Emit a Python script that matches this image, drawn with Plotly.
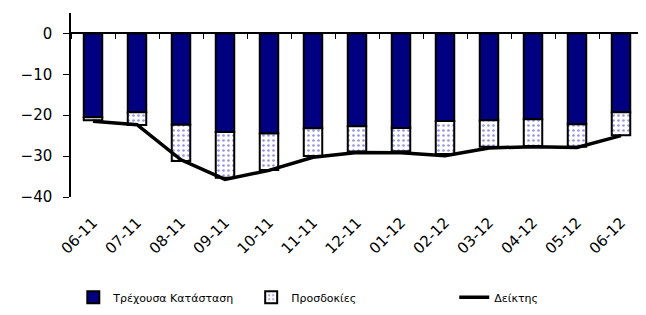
import plotly.graph_objects as go

categories = ["06-11", "07-11", "08-11", "09-11", "10-11", "11-11", "12-11",
              "01-12", "02-12", "03-12", "04-12", "05-12", "06-12"]
current = [-20.5, -19.3, -22.3, -24.1, -24.5, -23.2, -22.7, -23.1, -21.4, -21.2, -21.0, -22.2, -19.3]
expectations = [-0.7, -3.1, -8.9, -11.2, -8.9, -6.8, -6.2, -5.7, -8.1, -6.5, -6.5, -5.5, -5.6]
index_vals = [-21.5, -22.3, -30.9, -35.7, -33.5, -30.3, -29.1, -29.2, -29.9, -28.0, -27.7, -27.9, -25.0]
y_ticks = [0, -10, -20, -30, -40]

FONT = "DejaVu Sans"

fig = go.Figure()
fig.add_trace(go.Bar(
    x=categories, y=current, name="Τρέχουσα Κατάσταση",
    marker=dict(color="#000080", line=dict(color="black", width=2)),
    width=0.42, legend="legend",
))
fig.add_trace(go.Bar(
    x=categories, y=expectations, name="Προσδοκίες",
    marker=dict(color="white", line=dict(color="black", width=2),
                pattern=dict(shape=".", fgcolor="#2a2ac8", bgcolor="white",
                             size=5, solidity=0.22)),
    width=0.42, legend="legend2",
))
fig.add_trace(go.Scatter(
    x=categories, y=index_vals, name="Δείκτης", mode="lines",
    line=dict(color="black", width=3.5), xaxis="x2", legend="legend3",
))

legend_common = dict(orientation="h", yanchor="middle", y=-0.545, xanchor="left",
                     font=dict(family=FONT, size=11, color="black"),
                     bgcolor="rgba(0,0,0,0)", itemwidth=30)

fig.update_layout(
    width=638, height=307,
    margin=dict(l=63, r=3, t=5, b=110),
    paper_bgcolor="white", plot_bgcolor="white",
    barmode="relative",
    font=dict(family=FONT, color="black"),
    showlegend=True,
    legend=dict(x=0.004, **legend_common),
    legend2=dict(x=0.315, **legend_common),
    legend3=dict(x=0.670, **legend_common),
    xaxis=dict(type="category", categoryarray=categories, range=[-0.5, 12.5],
               showline=False, ticks="", tickangle=-45, showgrid=False,
               tickfont=dict(family=FONT, size=15, color="black"),
               ticklabelstandoff=13),
    xaxis2=dict(type="category", categoryarray=categories, range=[-0.5, 12.5],
                overlaying="x", anchor="free", position=40 / 45, side="bottom",
                showline=True, linecolor="black", linewidth=1.5,
                ticks="outside", ticklen=5, tickwidth=1, tickcolor="black",
                tickson="boundaries", showticklabels=False, showgrid=False),
    yaxis=dict(range=[-40, 5], tickvals=y_ticks, showline=True, linecolor="black",
               linewidth=1.5, ticks="outside", ticklen=6, tickcolor="black",
               showgrid=False, zeroline=False,
               tickfont=dict(family=FONT, size=15, color="black"),
               ticklabelstandoff=8),
)

fig.write_html("out.html")
